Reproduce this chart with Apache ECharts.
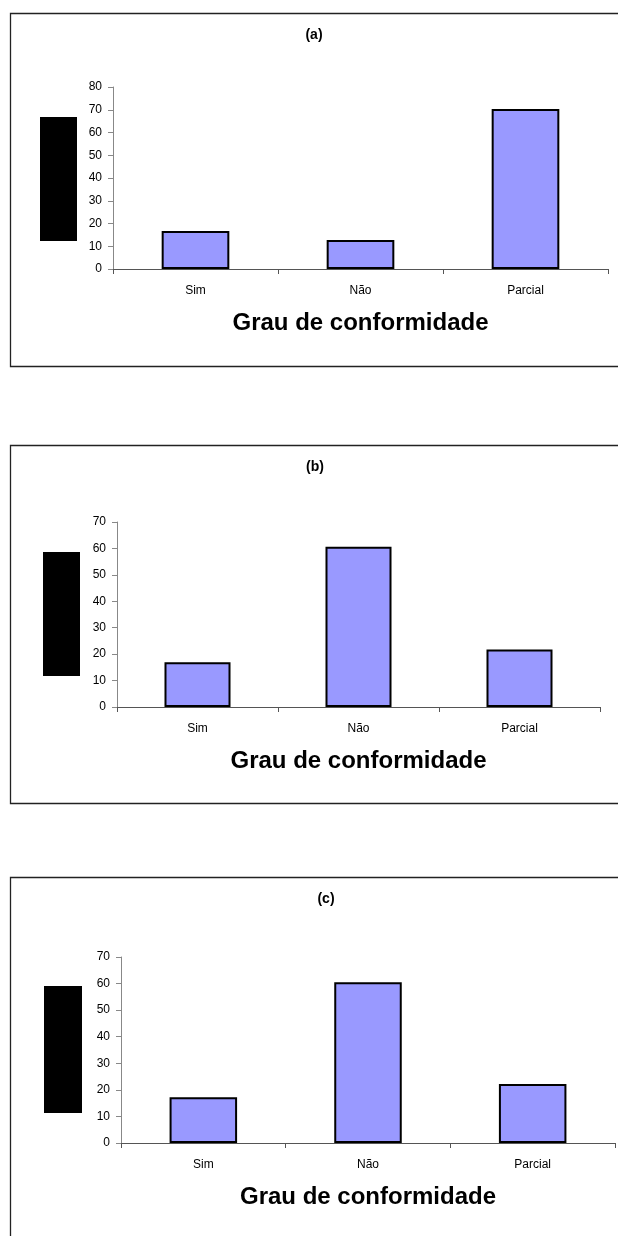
<!DOCTYPE html>
<html>
<head>
<meta charset="utf-8">
<style>
  html, body { margin: 0; padding: 0; background: #fff; }
  #chart { width: 618px; height: 1236px; }
</style>
<script src="https://cdn.jsdelivr.net/npm/echarts@6/dist/echarts.min.js"></script>
</head>
<body>
<div id="chart"></div>
<script>
// Categories and values (percentages) for the three panels
const categories = ['Sim', 'Não', 'Parcial'];
const valuesA = [16.7, 12.8, 70.3];
const valuesB = [16.9, 60.6, 21.8];
const valuesC = [17.2, 60.5, 22.2];
const panelLabels = ['(a)', '(b)', '(c)'];
const yMaxes = [80, 70, 70];
const yStep = 10;
const xAxisTitle = 'Grau de conformidade';

const panelValues = [valuesA, valuesB, valuesC];

// Plot-area geometry for each panel
const grids = [
  { left: 113, top: 87,  width: 495, height: 182 },
  { left: 117, top: 522, width: 483, height: 185 },
  { left: 121, top: 957, width: 494, height: 186 }
];
// Frame around each panel
const frames = [
  { x: 10.5, y: 13.5,  width: 700, height: 353 },
  { x: 10.5, y: 445.5, width: 700, height: 358 },
  { x: 10.5, y: 877.5, width: 700, height: 500 }
];
// Solid black blocks to the left of each value axis
const blocks = [
  { x: 40, y: 117, width: 37, height: 124 },
  { x: 43, y: 552, width: 37, height: 124 },
  { x: 44, y: 986, width: 38, height: 127 }
];
const titlePos = [
  { x: 314, y: 35 },
  { x: 315, y: 467 },
  { x: 326, y: 899 }
];

const font = 'Arial, "Liberation Sans", sans-serif';

const option = {
  backgroundColor: '#ffffff',
  animation: false,
  grid: grids.map(g => Object.assign({ containLabel: false }, g)),
  xAxis: grids.map((g, i) => ({
    type: 'category',
    gridIndex: i,
    data: categories,
    boundaryGap: true,
    name: xAxisTitle,
    nameLocation: 'middle',
    nameGap: 42,
    nameTextStyle: { fontFamily: font, fontWeight: 'bold', fontSize: 24, color: '#000' },
    axisLine: { show: true, lineStyle: { color: '#555', width: 1 } },
    axisTick: { show: true, length: 5, lineStyle: { color: '#555' } },
    axisLabel: { margin: 16, fontFamily: font, fontSize: 12, color: '#000' },
    splitLine: { show: false }
  })),
  yAxis: grids.map((g, i) => ({
    type: 'value',
    gridIndex: i,
    min: 0,
    max: yMaxes[i],
    interval: yStep,
    axisLine: { show: true, lineStyle: { color: '#888', width: 1 } },
    axisTick: { show: true, length: 5, lineStyle: { color: '#888' } },
    axisLabel: { margin: 11, fontFamily: font, fontSize: 12, color: '#000' },
    splitLine: { show: false }
  })),
  series: panelValues.map((vals, i) => ({
    type: 'bar',
    xAxisIndex: i,
    yAxisIndex: i,
    data: vals,
    barWidth: '41%',
    itemStyle: { color: '#9999FF', borderColor: '#000', borderWidth: 2 }
  })),
  graphic: [].concat(
    frames.map(f => ({
      type: 'rect',
      shape: f,
      style: { fill: 'none', stroke: '#222', lineWidth: 1.3 },
      z: -1
    })),
    blocks.map(b => ({
      type: 'rect',
      shape: b,
      style: { fill: '#000' }
    })),
    titlePos.map((p, i) => ({
      type: 'text',
      x: p.x,
      y: p.y,
      style: {
        text: panelLabels[i],
        font: 'bold 14px ' + font,
        fill: '#000',
        textAlign: 'center',
        textVerticalAlign: 'middle'
      }
    }))
  )
};

const chart = echarts.init(document.getElementById('chart'), null, { renderer: 'canvas' });
chart.setOption(option);
</script>
</body>
</html>
